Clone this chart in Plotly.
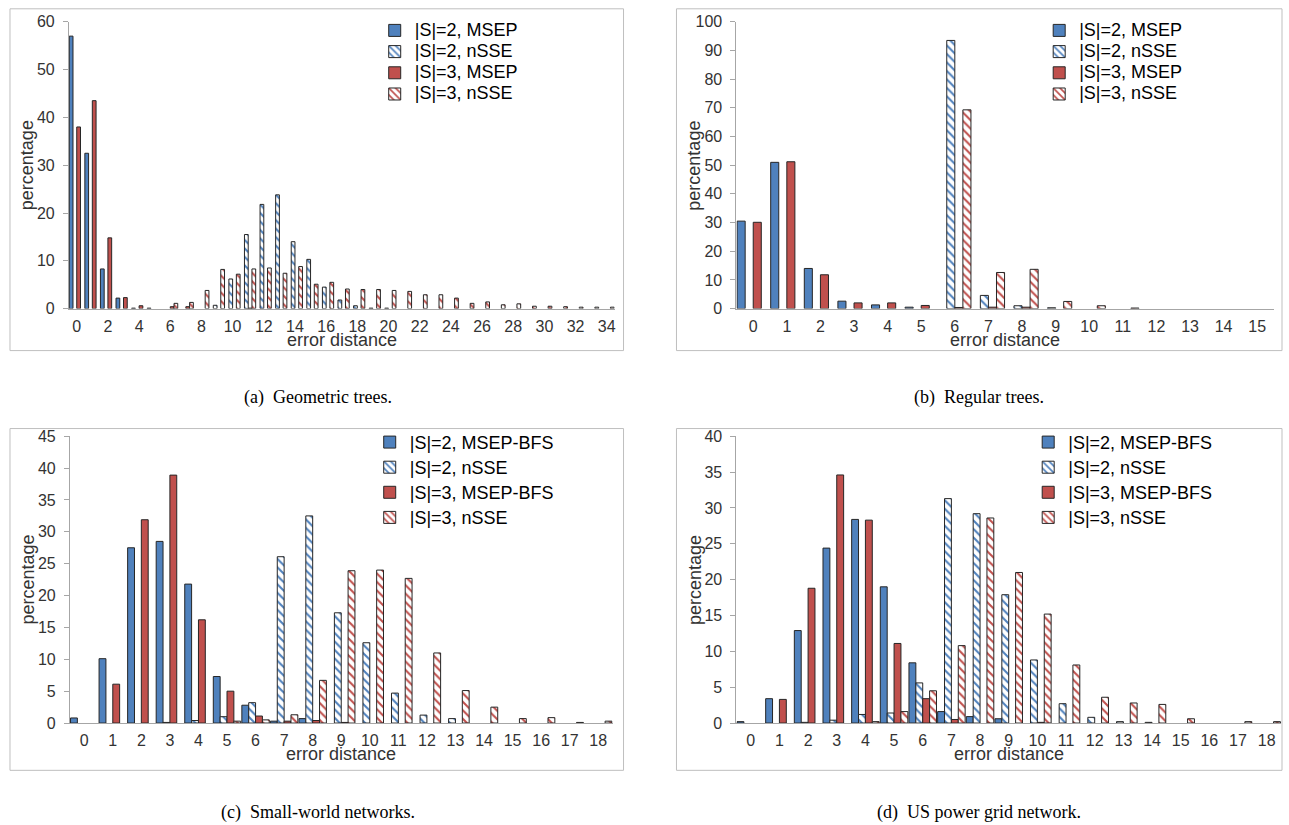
import plotly.graph_objects as go

W, H = 1289, 825

# ---------------- data ----------------
a_cats = list(range(35))
a_s2_msep = [57.0, 32.5, 8.3, 2.2, 0.1, 0.1, 0, 0, 0, 0, 0, 0, 0, 0, 0, 0, 0, 0, 0, 0,
             0, 0, 0, 0, 0, 0, 0, 0, 0, 0, 0, 0, 0, 0, 0]
a_s2_nsse = [0, 0, 0, 0, 0, 0, 0, 0, 0, 0.7, 6.2, 15.5, 21.8, 23.8, 14.0, 10.3, 4.5, 1.8, 0.6, 0.1,
             0.1, 0, 0, 0, 0, 0, 0, 0, 0, 0, 0, 0, 0, 0, 0]
a_s3_msep = [38.0, 43.5, 14.8, 2.3, 0.6, 0, 0.4, 0.4, 0, 0, 0, 0.1, 0, 0, 0, 0, 0, 0, 0, 0,
             0, 0, 0, 0, 0, 0, 0, 0, 0, 0, 0, 0, 0, 0, 0]
a_s3_nsse = [0, 0, 0, 0, 0, 0, 1.1, 1.3, 3.8, 8.2, 7.2, 8.3, 8.5, 7.4, 8.8, 5.1, 5.5, 4.1, 4.0, 4.0,
             3.8, 3.6, 2.9, 2.9, 2.2, 1.1, 1.4, 0.8, 1.0, 0.5, 0.5, 0.4, 0.3, 0.3, 0.3]
a_ticks = list(range(0, 35, 2))

b_cats = list(range(16))
b_s2_msep = [30.5, 51.0, 14.0, 2.6, 1.3, 0.5, 0, 0, 0, 0, 0, 0, 0, 0, 0, 0]
b_s2_nsse = [0, 0, 0, 0, 0, 0, 93.5, 4.6, 1.0, 0.3, 0, 0, 0, 0, 0, 0]
b_s3_msep = [30.1, 51.2, 11.8, 2.0, 2.0, 1.1, 0.4, 0.5, 0.5, 0, 0, 0, 0, 0, 0, 0]
b_s3_nsse = [0, 0, 0, 0, 0, 0, 69.3, 12.6, 13.7, 2.5, 1.0, 0.2, 0, 0, 0, 0]

c_cats = list(range(19))
c_s2_msep = [0.8, 10.1, 27.5, 28.5, 21.8, 7.3, 2.8, 0.3, 0.7, 0, 0, 0, 0, 0, 0, 0, 0, 0, 0]
c_s2_nsse = [0, 0, 0, 0.1, 0.4, 1.0, 3.2, 26.1, 32.5, 17.3, 12.6, 4.7, 1.25, 0.7, 0, 0, 0, 0, 0]
c_s3_msep = [0, 6.1, 31.9, 38.9, 16.2, 5.0, 1.1, 0.3, 0.4, 0.1, 0, 0, 0, 0, 0, 0, 0, 0, 0]
c_s3_nsse = [0, 0, 0, 0, 0, 0.3, 0.5, 1.3, 6.7, 23.9, 24.0, 22.7, 11.0, 5.1, 2.5, 0.7, 0.85, 0.1, 0.3]

d_cats = list(range(19))
d_s2_msep = [0.2, 3.4, 12.9, 24.4, 28.4, 19.0, 8.4, 1.6, 0.9, 0.6, 0, 0, 0, 0, 0, 0, 0, 0, 0]
d_s2_nsse = [0, 0, 0.1, 0.4, 1.2, 1.4, 5.6, 31.3, 29.2, 17.9, 8.8, 2.7, 0.8, 0.2, 0.1, 0, 0, 0, 0]
d_s3_msep = [0, 3.3, 18.8, 34.6, 28.3, 11.1, 3.4, 0.5, 0, 0, 0.1, 0, 0, 0, 0, 0, 0, 0, 0]
d_s3_nsse = [0, 0, 0, 0, 0.2, 1.6, 4.5, 10.8, 28.6, 21.0, 15.2, 8.1, 3.6, 2.8, 2.6, 0.6, 0, 0.2, 0.2]

names_tree = ["|S|=2, MSEP", "|S|=2, nSSE", "|S|=3, MSEP", "|S|=3, nSSE"]
names_net = ["|S|=2, MSEP-BFS", "|S|=2, nSSE", "|S|=3, MSEP-BFS", "|S|=3, nSSE"]
captions = ["(a)  Geometric trees.", "(b)  Regular trees.",
            "(c)  Small-world networks.", "(d)  US power grid network."]
x_title = "error distance"
y_title = "percentage"

# ---------------- style ----------------
BLUE = "#4F81BD"
RED = "#C0504D"
OUTLINE = "#262626"
AXIS = "#A6A6A6"
TXT = "#333333"
SANS = "Liberation Sans, Arial, sans-serif"
SERIF = "Liberation Serif, Times New Roman, serif"

# screen-space compensation for vertical placement
Y_OFF, Y_SCALE = 7.2, 0.98


def px(x):
    return x / W


def py(y):
    yf = (y - Y_OFF) / Y_SCALE
    return 1 - yf / H


fig = go.Figure()

panels = [
    dict(idx=1, cats=a_cats, series=[a_s2_msep, a_s2_nsse, a_s3_msep, a_s3_nsse], names=names_tree,
         legend="legend", ymax=60, dtick=10, ticks=a_ticks,
         xdom=(69, 615), ydom=(21, 308), leg=(375, 14, 14)),
    dict(idx=2, cats=b_cats, series=[b_s2_msep, b_s2_nsse, b_s3_msep, b_s3_nsse], names=names_tree,
         legend="legend2", ymax=100, dtick=10, ticks=b_cats,
         xdom=(737, 1275), ydom=(21, 308), leg=(1040, 14, 14)),
    dict(idx=3, cats=c_cats, series=[c_s2_msep, c_s2_nsse, c_s3_msep, c_s3_nsse], names=names_net,
         legend="legend3", ymax=45, dtick=5, ticks=c_cats,
         xdom=(70, 613), ydom=(435.7, 722.7), leg=(370, 424, 17)),
    dict(idx=4, cats=d_cats, series=[d_s2_msep, d_s2_nsse, d_s3_msep, d_s3_nsse], names=names_net,
         legend="legend4", ymax=40, dtick=5, ticks=d_cats,
         xdom=(737, 1282), ydom=(435.7, 722.7), leg=(1029, 424, 17)),
]

colors = [BLUE, BLUE, RED, RED]
hatched = [False, True, False, True]

layout_axes = {}
legends = {}
annotations = []
for p in panels:
    i = p["idx"]
    suffix = "" if i == 1 else str(i)
    for k, (vals, name) in enumerate(zip(p["series"], p["names"])):
        col = colors[k]
        if hatched[k]:
            pattern = dict(shape="\\", fgcolor=col, bgcolor="white", size=6, solidity=0.35,
                           fillmode="replace")
        else:
            pattern = dict(shape="")
        fig.add_trace(go.Bar(
            x=p["cats"], y=[v if v > 0 else None for v in vals],
            name='<span style="font-size:18px">' + name + '</span>',
            marker=dict(color=col, line=dict(color=OUTLINE, width=1), pattern=pattern),
            xaxis="x" + suffix, yaxis="y" + suffix, legend=p["legend"],
        ))
    layout_axes["xaxis" + suffix] = dict(
        domain=[px(p["xdom"][0]), px(p["xdom"][1])], anchor="y" + suffix,
        range=[-0.5, len(p["cats"]) - 0.5], tickmode="array", tickvals=p["ticks"],
        ticktext=[str(t) for t in p["ticks"]], showline=True, linecolor=AXIS, linewidth=1,
        ticks="", showgrid=False, zeroline=False, ticklabelstandoff=3,
        tickfont=dict(family=SANS, size=16, color=TXT),
    )
    layout_axes["yaxis" + suffix] = dict(
        domain=[py(p["ydom"][1]), py(p["ydom"][0])], anchor="x" + suffix,
        range=[0, p["ymax"]], dtick=p["dtick"], showline=True, linecolor=AXIS, linewidth=1,
        ticks="outside", ticklen=5, tickcolor=AXIS, showgrid=False, zeroline=False,
        ticklabelstandoff=5,
        tickfont=dict(family=SANS, size=16, color=TXT),
    )
    lx, ly, lfs = p["leg"]
    legends[p["legend"]] = dict(
        x=px(lx), y=py(ly), xanchor="left", yanchor="top",
        font=dict(family=SANS, size=lfs, color="#000000"), bgcolor="rgba(0,0,0,0)",
        itemwidth=30, tracegroupgap=0, traceorder="normal",
    )
    xc = (p["xdom"][0] + p["xdom"][1]) / 2
    annotations.append(dict(text=x_title, x=px(xc), y=py(p["ydom"][1] + 31), xref="paper",
                            yref="paper", showarrow=False, xanchor="center", yanchor="middle",
                            font=dict(family=SANS, size=18, color=TXT)))
    yc = (p["ydom"][0] + p["ydom"][1]) / 2
    annotations.append(dict(text=y_title, x=px(p["xdom"][0] - 42), y=py(yc), xref="paper",
                            yref="paper", showarrow=False, xanchor="center", yanchor="middle",
                            textangle=-90, font=dict(family=SANS, size=18, color=TXT)))

frames = [(10, 8, 624, 350), (677, 8, 1283, 350), (10, 428, 624, 770), (677, 428, 1283, 770)]
shapes = [dict(type="rect", xref="paper", yref="paper", x0=px(x0), x1=px(x1), y0=py(y1), y1=py(y0),
               line=dict(color="#BFBFBF", width=1), fillcolor="rgba(0,0,0,0)", layer="below")
          for (x0, y0, x1, y1) in frames]

cap_pos = [(318, 397), (980, 397), (318, 812), (980, 812)]
for t, (cx, cy) in zip(captions, cap_pos):
    annotations.append(dict(text=t, x=px(cx), y=py(cy), xref="paper", yref="paper",
                            showarrow=False, xanchor="center", yanchor="middle",
                            font=dict(family=SERIF, size=18, color="#000000")))

fig.update_layout(
    width=W, height=H, margin=dict(l=0, r=0, t=0, b=0),
    paper_bgcolor="white", plot_bgcolor="white",
    barmode="group", bargap=0.04, bargroupgap=0.0,
    shapes=shapes, annotations=annotations,
    showlegend=True,
    **layout_axes, **legends,
)

fig.write_html("out.html", config={"displayModeBar": False},
               post_script="document.body.style.margin='0px';document.body.style.overflow='hidden';")
